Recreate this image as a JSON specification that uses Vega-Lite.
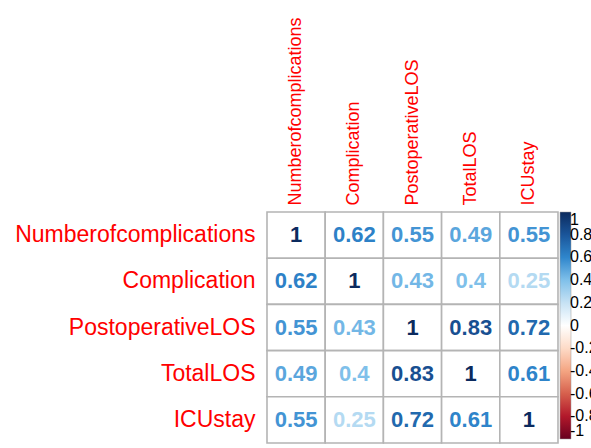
{
  "$schema": "https://vega.github.io/schema/vega-lite/v6.json",
  "autosize": "none",
  "width": 291,
  "height": 231,
  "padding": {"left": 267, "top": 212, "right": 33, "bottom": 5},
  "background": "white",
  "config": {"view": {"stroke": null}},
  "data": {
    "values": [
      {"row": "Numberofcomplications", "col": "Numberofcomplications", "r": 1},
      {"row": "Numberofcomplications", "col": "Complication", "r": 0.62},
      {"row": "Numberofcomplications", "col": "PostoperativeLOS", "r": 0.55},
      {"row": "Numberofcomplications", "col": "TotalLOS", "r": 0.49},
      {"row": "Numberofcomplications", "col": "ICUstay", "r": 0.55},
      {"row": "Complication", "col": "Numberofcomplications", "r": 0.62},
      {"row": "Complication", "col": "Complication", "r": 1},
      {"row": "Complication", "col": "PostoperativeLOS", "r": 0.43},
      {"row": "Complication", "col": "TotalLOS", "r": 0.4},
      {"row": "Complication", "col": "ICUstay", "r": 0.25},
      {"row": "PostoperativeLOS", "col": "Numberofcomplications", "r": 0.55},
      {"row": "PostoperativeLOS", "col": "Complication", "r": 0.43},
      {"row": "PostoperativeLOS", "col": "PostoperativeLOS", "r": 1},
      {"row": "PostoperativeLOS", "col": "TotalLOS", "r": 0.83},
      {"row": "PostoperativeLOS", "col": "ICUstay", "r": 0.72},
      {"row": "TotalLOS", "col": "Numberofcomplications", "r": 0.49},
      {"row": "TotalLOS", "col": "Complication", "r": 0.4},
      {"row": "TotalLOS", "col": "PostoperativeLOS", "r": 0.83},
      {"row": "TotalLOS", "col": "TotalLOS", "r": 1},
      {"row": "TotalLOS", "col": "ICUstay", "r": 0.61},
      {"row": "ICUstay", "col": "Numberofcomplications", "r": 0.55},
      {"row": "ICUstay", "col": "Complication", "r": 0.25},
      {"row": "ICUstay", "col": "PostoperativeLOS", "r": 0.72},
      {"row": "ICUstay", "col": "TotalLOS", "r": 0.61},
      {"row": "ICUstay", "col": "ICUstay", "r": 1}
    ]
  },
  "encoding": {
    "x": {
      "field": "col", "type": "nominal",
      "sort": ["Numberofcomplications", "Complication", "PostoperativeLOS", "TotalLOS", "ICUstay"],
      "scale": {"paddingInner": 0, "paddingOuter": 0},
      "axis": {
        "orient": "top", "title": null, "domain": false, "ticks": false, "grid": false,
        "labelAngle": 270, "labelAlign": "left", "labelBaseline": "middle",
        "labelPadding": 7, "labelFont": "Liberation Sans", "labelFontSize": 18,
        "labelColor": "#FF0000", "labelLimit": 400
      }
    },
    "y": {
      "field": "row", "type": "nominal",
      "sort": ["Numberofcomplications", "Complication", "PostoperativeLOS", "TotalLOS", "ICUstay"],
      "scale": {"paddingInner": 0, "paddingOuter": 0},
      "axis": {
        "title": null, "domain": false, "ticks": false, "grid": false,
        "labelPadding": 12, "labelFont": "Liberation Sans", "labelFontSize": 23,
        "labelColor": "#FF0000", "labelLimit": 400
      }
    }
  },
  "layer": [
    {
      "mark": {"type": "rect", "fill": "white", "stroke": "#b4b4b4", "strokeWidth": 1.6}
    },
    {
      "mark": {"type": "text", "font": "Liberation Sans", "fontWeight": "bold", "fontSize": 22, "baseline": "middle", "align": "center"},
      "encoding": {
        "text": {"field": "r", "type": "quantitative", "format": ".2~f"},
        "color": {
          "field": "r", "type": "quantitative",
          "scale": {
            "domain": [-1, -0.8, -0.6, -0.4, -0.2, 0, 0.2, 0.4, 0.6, 0.8, 1],
            "range": ["#67001F", "#B2182B", "#D6604D", "#F4A582", "#FDDBC7", "#FFFFFF", "#C6E2F4", "#7FC0EA", "#2F86CC", "#1A559A", "#0B2A5E"],
            "interpolate": "rgb"
          },
          "legend": {
            "orient": "none", "legendX": 293, "legendY": 0, "padding": 0,
            "title": null, "direction": "vertical",
            "gradientLength": 227, "gradientThickness": 11,
            "gradientStrokeColor": "#999999", "gradientStrokeWidth": 0.5,
            "values": [1, 0.8, 0.6, 0.4, 0.2, 0, -0.2, -0.4, -0.6, -0.8, -1],
            "labelExpr": "datum.value < 0 ? '-' + format(-datum.value, '.1~f') : format(datum.value, '.1~f')",
            "labelFont": "Liberation Sans", "labelFontSize": 16, "labelColor": "black",
            "labelOffset": -1, "labelOverlap": false, "labelLimit": 100
          }
        }
      }
    }
  ]
}
